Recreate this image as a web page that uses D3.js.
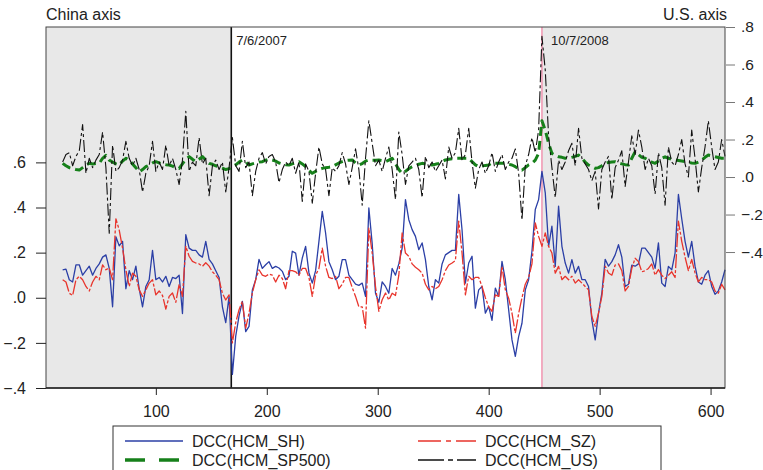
<!DOCTYPE html>
<html>
<head>
<meta charset="utf-8">
<script src="https://cdn.jsdelivr.net/npm/d3@7/dist/d3.min.js"></script>
<style>
  body { margin: 0; background: #fff; }
  svg { display: block; font-family: "Liberation Sans", Arial, sans-serif; }
</style>
</head>
<body>
<svg id="chart" width="763" height="470"></svg>
<script>
var obs = d3.range(16, 614, 3);

var dccSH = [
  .124,.127,.08,.07,.146,.146,.10,.12,.14,.10,
  .13,.15,.18,.19,.13,-.04,.27,.23,.25,.04,
  .12,.08,.14,.04,-.04,.05,.08,.21,.08,.09,
  .07,.095,.05,.09,.085,.10,-.07,.28,.22,.21,
  .21,.19,.18,.25,.17,.15,.12,.09,-.04,-.11,
  .006,-.34,-.17,-.08,-.016,-.15,-.127,.035,.08,.17,
  .13,.146,.16,.13,.139,.132,.117,.08,.095,.206,
  .198,.10,.176,.228,.11,.065,.12,.25,.383,.287,
  .16,.124,.08,.095,.169,.169,.10,.08,.06,.055,
  .065,.006,.398,.24,.02,-.02,.07,.05,.02,.13,
  .10,.15,.22,.435,.346,.302,.272,.213,.243,.169,
  .05,-.009,.08,.065,.15,.19,.20,.21,.21,.458,
  .30,.065,.154,.184,-.046,.035,.05,-.068,-.038,-.10,
  .043,.006,.161,.08,-.053,-.187,-.26,-.172,-.113,.035,
  .08,.206,.391,.435,.56,.465,.228,.317,.139,.406,
  .228,.154,.109,.169,.109,.139,.08,.08,.05,-.098,
  -.187,-.068,.021,.17,.14,.16,.19,.235,.18,.05,
  .06,.145,.14,.15,.22,.22,.20,.18,.13,.243,
  .065,.05,.139,.124,.198,.458,.35,.25,.18,.25,
  .14,.07,.06,.10,.12,.05,.015,.03,.07,.124
];

var dccSZ = [
  .08,.07,.02,.01,.08,.095,.08,.05,.03,.07,
  .095,.08,.146,.124,.132,.08,.35,.30,.22,.124,
  .05,.109,.095,.035,.006,.035,.065,.08,.013,.03,
  .01,-.05,.006,.021,-.02,.06,.006,.228,.184,.161,
  .154,.15,.139,.155,.14,.115,.10,.08,.02,-.01,
  .013,-.20,-.11,-.053,-.016,-.135,-.068,.021,.08,.124,
  .10,.095,.105,.10,.07,.10,.085,.04,.12,.12,
  .115,.10,.13,.13,.09,.006,.10,.13,.22,.14,
  .09,.085,.095,.04,.06,.09,.09,.045,.006,-.04,
  -.04,-.135,.309,.198,.05,-.06,-.009,.021,-.01,.02,
  .01,.10,.287,.198,.184,.15,.135,.124,.109,.06,
  .035,.05,.04,.05,.08,.12,.145,.154,.165,.34,
  .198,.013,.095,.08,.09,.09,.05,.0,-.04,-.06,
  .013,.006,.139,.035,-.002,-.068,-.157,-.07,.0,.06,
  .09,.15,.332,.272,.228,.287,.228,.198,.109,.139,
  .08,.095,.08,.095,.065,.08,.065,.05,.035,-.083,
  -.127,-.068,.006,.14,.11,.10,.145,.15,.12,.03,
  .05,.13,.175,.16,.115,.12,.13,.15,.10,.125,
  .10,.085,.10,.115,.09,.34,.25,.18,.12,.17,
  .11,.07,.09,.08,.08,.07,.03,.02,.06,.035
];

var dccSP500 = [
  .073,.06,.05,.045,.04,.037,.05,.065,.073,.07,
  .072,.073,.10,.115,.09,.08,.07,.064,.085,.10,
  .09,.07,.05,.028,.04,.055,.064,.075,.082,.075,
  .07,.066,.064,.058,.05,.046,.07,.095,.109,.095,
  .082,.095,.109,.09,.073,.068,.06,.055,.048,.04,
  .045,.055,.065,.08,.091,.08,.064,.07,.075,.08,
  .082,.09,.095,.091,.085,.075,.07,.066,.064,.07,
  .075,.082,.07,.055,.035,.02,.03,.04,.046,.05,
  .052,.055,.065,.075,.082,.088,.09,.091,.075,.064,
  .072,.085,.091,.09,.09,.091,.088,.082,.09,.10,
  .07,.04,.019,.03,.045,.055,.062,.068,.073,.07,
  .066,.064,.068,.073,.082,.091,.095,.098,.10,.10,
  .10,.10,.10,.082,.065,.055,.058,.062,.064,.075,
  .073,.073,.073,.073,.068,.064,.055,.045,.037,.05,
  .065,.073,.09,.126,.30,.25,.18,.126,.115,.108,
  .105,.10,.10,.105,.11,.117,.10,.08,.064,.055,
  .046,.05,.06,.073,.078,.08,.082,.075,.07,.066,
  .064,.10,.135,.12,.105,.10,.09,.08,.073,.085,
  .10,.108,.10,.095,.091,.088,.085,.082,.078,.075,
  .073,.08,.09,.105,.117,.113,.108,.104,.10,.10
];

var dccUS = [
  .08,.12,.13,.06,.11,.14,.28,.02,.10,.05,
  .09,.12,.24,.05,-.30,.17,.03,.05,.09,.19,
  .10,.06,.10,.04,-.08,.02,.06,.19,.03,.08,
  .04,.17,.06,.10,.04,-.04,.09,.35,.03,.08,
  .06,.21,.07,.10,-.10,.06,.09,.04,.08,-.08,
  .05,.21,.06,.03,.19,.05,.08,-.10,.03,.10,
  .13,.07,.11,.12,.08,-.03,.04,.08,.06,.10,
  .02,.08,-.13,.07,.03,-.14,.02,.16,.07,.04,
  -.10,.05,.03,.06,.13,.07,-.04,.05,.15,.04,
  -.15,.10,.30,.18,.06,.09,.03,.10,.16,.04,
  -.12,.24,.12,-.04,.06,.08,.10,.04,-.11,.11,
  .05,.08,.03,.06,.09,-.01,.16,.10,.13,.26,
  .09,.12,.26,.08,-.06,.04,.08,.02,.06,.13,
  .03,.08,.12,.04,.08,.10,.15,.02,-.23,.06,
  .12,.21,.13,.25,.75,.57,.22,.05,-.11,.09,
  .04,.08,.14,.18,.06,.26,.10,.07,.04,-.02,
  .03,-.17,.04,.08,.11,-.12,.05,.09,.14,-.05,
  .08,.22,.12,.25,.16,.04,.10,.06,-.09,.13,
  .05,-.15,.16,.08,.06,.12,.20,.07,.00,.25,
  .10,-.08,.05,.16,.30,.16,.04,.08,.20,.11
];

var seriesNames = ['DCC(HCM_SH)', 'DCC(HCM_SZ)', 'DCC(HCM_SP500)', 'DCC(HCM_US)'];
var eventObs = [168, 448];
var eventLabels = ['7/6/2007', '10/7/2008'];
var chinaTicks = [-0.4, -0.2, 0, 0.2, 0.4, 0.6];
var usTicks = [-0.4, -0.2, 0, 0.2, 0.4, 0.6, 0.8];
var obsTicks = [100, 200, 300, 400, 500, 600];

var plotL = 46, plotR = 725, plotT = 27, plotB = 388;

var svg = d3.select('#chart');

var x = d3.scaleLinear().domain([1, 613]).range([plotL, plotR]);
var yCn = d3.scaleLinear().domain([-0.4, 1.2]).range([plotB, plotT]);
var yUs = d3.scaleLinear().domain([-1.125, 0.8]).range([plotB, plotT]);

var fmt = function(d) { return d3.format('.1f')(d).replace('0.', '.'); };

// shaded periods before the first and after the second event
svg.append('rect')
  .attr('x', x(1)).attr('y', plotT)
  .attr('width', x(eventObs[0]) - x(1)).attr('height', plotB - plotT)
  .attr('fill', '#e8e8e8');
svg.append('rect')
  .attr('x', x(eventObs[1])).attr('y', plotT)
  .attr('width', x(613) - x(eventObs[1])).attr('height', plotB - plotT)
  .attr('fill', '#e8e8e8');

// event lines
svg.append('line')
  .attr('x1', x(eventObs[0])).attr('x2', x(eventObs[0]))
  .attr('y1', plotT).attr('y2', plotB)
  .attr('stroke', '#111').attr('stroke-width', 1.6);
svg.append('line')
  .attr('x1', x(eventObs[1])).attr('x2', x(eventObs[1]))
  .attr('y1', plotT).attr('y2', plotB)
  .attr('stroke', '#f07ea0').attr('stroke-width', 1.2);

svg.append('text')
  .attr('x', x(eventObs[0]) + 5).attr('y', 45)
  .style('font-size', '13px').attr('fill', '#222')
  .text(eventLabels[0]);
svg.append('text')
  .attr('x', x(eventObs[1]) + 9).attr('y', 45)
  .style('font-size', '13px').attr('fill', '#222')
  .text(eventLabels[1]);

// the four series
var styles = [
  { data: dccSH, y: yCn, color: '#2b3fa6', width: 1.3, dash: null },
  { data: dccSZ, y: yCn, color: '#e8342c', width: 1.3, dash: '14,2,3,2' },
  { data: dccSP500, y: yUs, color: '#16801a', width: 3, dash: '9,5' },
  { data: dccUS, y: yUs, color: '#111', width: 1.1, dash: '12,3,3,3' }
];

styles.forEach(function(s) {
  var line = d3.line()
    .x(function(d, i) { return x(obs[i]); })
    .y(function(d) { return s.y(d); });
  svg.append('path')
    .datum(s.data)
    .attr('fill', 'none')
    .attr('stroke', s.color)
    .attr('stroke-width', s.width)
    .attr('stroke-dasharray', s.dash)
    .attr('stroke-linejoin', 'round')
    .attr('d', line);
});

// frame
svg.append('rect')
  .attr('x', plotL).attr('y', plotT)
  .attr('width', plotR - plotL).attr('height', plotB - plotT)
  .attr('fill', 'none').attr('stroke', '#444').attr('stroke-width', 1);

// axes
var axL = svg.append('g').attr('transform', 'translate(' + plotL + ',0)')
  .call(d3.axisLeft(yCn).tickValues(chinaTicks).tickFormat(fmt).tickSize(10).tickPadding(10));
var axR = svg.append('g').attr('transform', 'translate(' + (plotR + 1) + ',0)')
  .call(d3.axisRight(yUs).tickValues(usTicks).tickFormat(fmt).tickSize(9).tickPadding(6));
var axB = svg.append('g').attr('transform', 'translate(0,' + plotB + ')')
  .call(d3.axisBottom(x).tickValues(obsTicks).tickSize(7).tickPadding(11));

[axL, axR, axB].forEach(function(a) {
  a.select('.domain').remove();
  a.selectAll('text').style('font-size', '16px').style('font-family', '"Liberation Sans", Arial, sans-serif').attr('fill', '#222');
});
axR.selectAll('text').style('font-size', '15.5px');
axL.selectAll('line').attr('stroke', '#222');
axR.selectAll('line').attr('stroke', '#777');
axB.selectAll('line').attr('stroke', '#222');

svg.append('line')
  .attr('x1', plotL).attr('x2', plotR).attr('y1', plotB).attr('y2', plotB)
  .attr('stroke', '#222').attr('stroke-width', 1.5);

svg.append('text').attr('x', plotL).attr('y', 20)
  .style('font-size', '16px').attr('fill', '#222').text('China axis');
svg.append('text').attr('x', plotR + 2).attr('y', 20)
  .attr('text-anchor', 'end')
  .style('font-size', '16px').attr('fill', '#222').text('U.S. axis');

// legend
svg.append('rect')
  .attr('x', 113).attr('y', 426).attr('width', 548).attr('height', 60)
  .attr('fill', 'none').attr('stroke', '#333').attr('stroke-width', 1);

var legendDash = [null, '23,5,5,5', '20,14', '26,4,5,4'];
var legendPos = [[125, 441], [418, 441], [125, 460], [418, 460]];
seriesNames.forEach(function(name, i) {
  var p = legendPos[i];
  svg.append('line')
    .attr('x1', p[0]).attr('x2', p[0] + 58)
    .attr('y1', p[1]).attr('y2', p[1])
    .attr('stroke', styles[i].color)
    .attr('stroke-width', i === 2 ? 3.5 : 1.3)
    .attr('stroke-dasharray', legendDash[i]);
  svg.append('text')
    .attr('x', p[0] + 67).attr('y', p[1])
    .attr('dy', '0.35em')
    .style('font-size', '16px').attr('fill', '#222')
    .text(name);
});
</script>
</body>
</html>
